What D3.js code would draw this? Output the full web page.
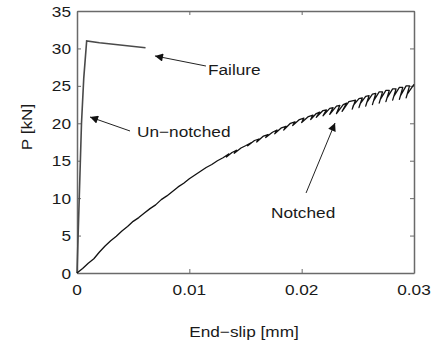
<!DOCTYPE html>
<html><head><meta charset="utf-8">
<script src="https://cdn.jsdelivr.net/npm/d3@7"></script>
<style>body{margin:0;background:#fff}svg{display:block}text{font-family:"Liberation Sans",Arial,sans-serif;fill:#1a1a1a}</style>
</head><body>
<script>
const xTicks = [0, 0.01, 0.02, 0.03];
const xTickLabels = ["0", "0.01", "0.02", "0.03"];
const yTicks = [0, 5, 10, 15, 20, 25, 30, 35];
const unnotchedX = [0, 0.0001, 0.0002, 0.0004, 0.0006, 0.00086, 0.002, 0.0061];
const unnotchedP = [0, 5, 10, 20, 26, 31, 30.75, 30.1];
const notchedX = [0,0.0005,0.0010,0.0015,0.0020,0.0025,0.0030,0.0035,0.0040,0.0045,0.0050,0.0055,0.0060,0.0065,0.0070,0.0075,0.0080,0.0085,0.0090,0.0095,0.0100,0.0105,0.0110,0.0115,0.0120,0.0125,0.0130,
 0.0135,0.0133,0.0138,0.0142,0.0140,0.0146,0.0150,0.0155,0.0152,0.0158,0.0162,0.0160,0.0166,0.0170,0.0168,0.0174,0.0178,0.0176,0.0182,0.0186,0.0184,0.0190,0.0194,0.0192,0.0198,0.0202,0.0200,0.0206,0.0210,0.0208,0.0213,0.0216,0.0213,0.0219,0.0222,0.0219,0.0225,0.0228,0.0225,0.0231,0.0234,0.0231,0.0237,0.0240,0.0236,0.0242,0.0245,
 0.0248,0.0245,0.0246,0.0251,0.0254,0.0251,0.0252,0.0257,0.0260,0.0257,0.0258,0.0263,0.0266,0.0263,0.0264,0.0269,0.0272,0.0269,0.0270,0.0275,0.0278,0.0275,0.0276,0.0281,0.0284,0.0281,0.0282,0.0287,0.0290,0.0287,0.0288,0.0293,0.0296,0.0293,0.0294,0.0300];
const notchedP = [0,0.6,1.3,1.9,2.8,3.6,4.3,4.9,5.6,6.2,6.9,7.4,8.0,8.6,9.1,9.8,10.3,10.9,11.5,12.0,12.6,13.1,13.6,14.1,14.5,15.0,15.4,
 15.9,15.5,16.1,16.4,16.0,16.7,17.0,17.4,17.0,17.7,17.9,17.5,18.3,18.5,18.1,18.8,19.1,18.6,19.4,19.6,19.1,20.0,20.2,19.7,20.5,20.7,20.1,20.9,21.1,20.5,21.3,21.5,20.8,21.7,21.8,21.0,22.0,22.1,21.2,22.3,22.4,21.3,22.5,22.7,21.6,22.9,23.0,
 23.1,21.9,22.4,23.3,23.4,22.1,22.6,23.6,23.7,22.3,22.8,23.9,24.0,22.5,23.0,24.2,24.2,22.7,23.2,24.4,24.4,22.9,23.4,24.6,24.6,23.1,23.6,24.8,24.8,23.2,23.7,25.0,25.0,23.4,23.9,25.2];
const labels = ["Failure", "Un\u2212notched", "Notched"];
const xLabel = "End\u2212slip [mm]";
const yLabel = "P [kN]";

const W = 433, H = 344;
const m = {l: 77, r: 414, t: 11, b: 273};
const svg = d3.select("body").append("svg").attr("width", W).attr("height", H);
const x = d3.scaleLinear().domain([0, 0.03]).range([m.l, m.r]);
const y = d3.scaleLinear().domain([0, 35]).range([m.b, m.t]);
const SX = 1.15, FS = 15;
function txt(tx, ty, s, anchor, rot) {
  return svg.append("text").attr("font-size", FS).attr("text-anchor", anchor || "start")
    .attr("dominant-baseline", "central")
    .attr("transform", `translate(${tx},${ty}) rotate(${rot||0}) scale(${SX},1)`).text(s);
}
const defs = svg.append("defs");
defs.append("marker").attr("id", "ah").attr("viewBox", "0 0 10 10").attr("refX", 10).attr("refY", 5)
  .attr("markerWidth", 12).attr("markerHeight", 8).attr("markerUnits", "userSpaceOnUse").attr("orient", "auto")
  .append("path").attr("d", "M0,0 L10,5 L0,10 Z").attr("fill", "#111");

const axCol = "#6a6a6a";
const gB = svg.append("g").attr("transform", `translate(0,${m.b})`)
  .call(d3.axisBottom(x).tickValues(xTicks).tickFormat((d,i)=>xTickLabels[i]).tickSizeInner(-4).tickSizeOuter(0));
const gT = svg.append("g").attr("transform", `translate(0,${m.t})`)
  .call(d3.axisTop(x).tickValues(xTicks).tickFormat("").tickSizeInner(-4).tickSizeOuter(0));
const gL = svg.append("g").attr("transform", `translate(${m.l},0)`)
  .call(d3.axisLeft(y).tickValues(yTicks).tickSizeInner(-4).tickSizeOuter(0));
const gR = svg.append("g").attr("transform", `translate(${m.r},0)`)
  .call(d3.axisRight(y).tickValues(yTicks).tickFormat("").tickSizeInner(-4).tickSizeOuter(0));
[gB, gT, gL, gR].forEach(g => {
  g.select(".domain").attr("stroke", axCol).attr("stroke-width", 1.5);
  g.selectAll(".tick line").attr("stroke", axCol).attr("stroke-width", 1);
  g.selectAll("text").remove();
});
xTicks.forEach((d, i) => txt(x(d), 289, xTickLabels[i], "middle"));
yTicks.forEach(d => txt(m.l - 6, y(d), String(d), "end"));

const line = d3.line().x(d => x(d[0])).y(d => y(d[1]));
svg.append("path").datum(unnotchedX.map((v,i)=>[v, unnotchedP[i]])).attr("d", line)
  .attr("fill", "none").attr("stroke", "#4a4a4a").attr("stroke-width", 1.6);
svg.append("path").datum(notchedX.map((v,i)=>[v, notchedP[i]])).attr("d", line)
  .attr("fill", "none").attr("stroke", "#111").attr("stroke-width", 1.3).attr("stroke-linejoin", "round");

function arrow(x1, y1, x2, y2) {
  svg.append("line").attr("x1", x(x1)).attr("y1", y(y1)).attr("x2", x(x2)).attr("y2", y(y2))
    .attr("stroke", "#222").attr("stroke-width", 1).attr("marker-end", "url(#ah)");
}
arrow(0.01148, 27.65, 0.00694, 29.0);
txt(208, 69, labels[0]);
arrow(0.00472, 18.97, 0.00116, 20.84);
txt(137, 131, labels[1]);
arrow(0.02039, 10.69, 0.02297, 20.04);
txt(271, 212, labels[2]);

txt(244, 331, xLabel, "middle");
txt(26, 127, yLabel, "middle", -90);
</script>
</body></html>
